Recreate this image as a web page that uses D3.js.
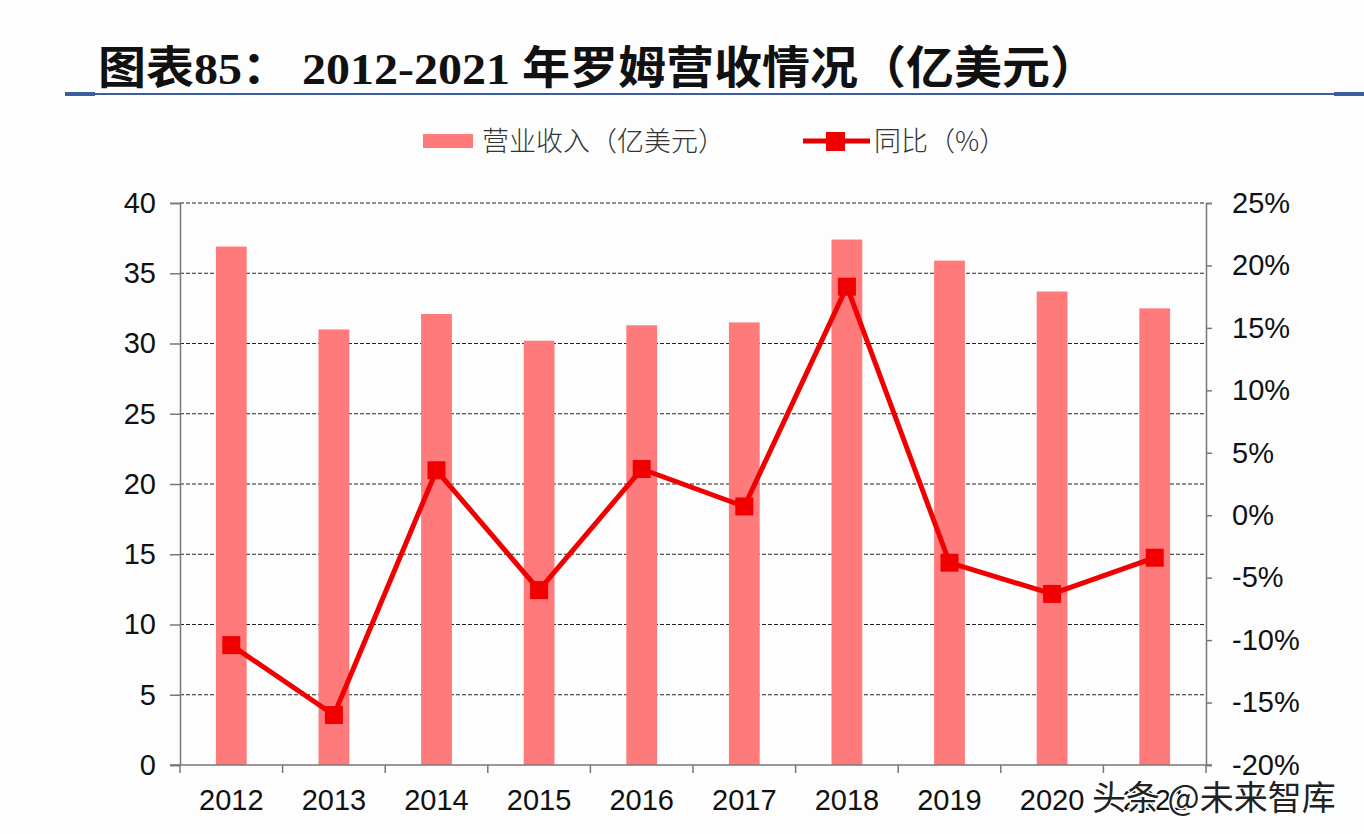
<!DOCTYPE html>
<html>
<head>
<meta charset="utf-8">
<script src="https://cdn.jsdelivr.net/npm/d3@7"></script>
<style>
  body { margin: 0; background: #fdfdfd; }
</style>
</head>
<body>
<script>
var w = 1364,
    h = 834;

var years = ["2012","2013","2014","2015","2016","2017","2018","2019","2020","2021"];
var revenue = [36.9, 31.0, 32.1, 30.2, 31.3, 31.5, 37.4, 35.9, 33.7, 32.5];
var yoy = [-10.4, -16.0, 3.6, -6.0, 3.7, 0.7, 18.3, -3.8, -6.3, -3.4];
var leftTicks = [0, 5, 10, 15, 20, 25, 30, 35, 40];
var rightTicks = [-20, -15, -10, -5, 0, 5, 10, 15, 20, 25];

var mLeft = 180, mRight = 1206, mTop = 203, mBottom = 765;

var svg = d3.select("body").append("svg")
  .attr("width", w).attr("height", h)
  .style("display", "block")
  .style("font-family", "'Liberation Sans', Arial, sans-serif");

// title
svg.append("text")
  .attr("x", 98).attr("y", 84)
  .attr("font-size", 45).attr("font-weight", "bold")
  .attr("fill", "#111")
  .attr("textLength", 1000).attr("lengthAdjust", "spacingAndGlyphs")
  .style("font-family", "'Liberation Serif', 'Noto Sans CJK SC', serif")
  .text("图表85：  2012-2021 年罗姆营收情况（亿美元）");

svg.append("line")
  .attr("x1", 65).attr("x2", 1364).attr("y1", 94).attr("y2", 94)
  .attr("stroke", "#3a5f9c").attr("stroke-width", 2);
svg.append("rect").attr("x", 65).attr("y", 92).attr("width", 30).attr("height", 4).attr("fill", "#3a5f9c");
svg.append("rect").attr("x", 1334).attr("y", 92).attr("width", 30).attr("height", 4).attr("fill", "#3a5f9c");

var x = d3.scaleBand().domain(years).range([mLeft, mRight]).paddingInner(0.7).paddingOuter(0.35);
var xb = d3.scaleBand().domain(years).range([mLeft, mRight]);
var y = d3.scaleLinear().domain([0, 40]).range([mBottom, mTop]);
var y2 = d3.scaleLinear().domain([-20, 25]).range([mBottom, mTop]);

// gridlines
svg.append("g").selectAll("line")
  .data(leftTicks.filter(function(d) { return d > 0; }))
  .enter().append("line")
  .attr("x1", mLeft).attr("x2", mRight)
  .attr("y1", function(d) { return y(d); })
  .attr("y2", function(d) { return y(d); })
  .attr("stroke", "#222").attr("stroke-width", 1)
  .attr("stroke-dasharray", "4,2");

// bars
svg.append("g").selectAll("rect")
  .data(revenue)
  .enter().append("rect")
  .attr("x", function(d, i) { return x(years[i]); })
  .attr("width", x.bandwidth())
  .attr("y", function(d) { return y(d); })
  .attr("height", function(d) { return mBottom - y(d); })
  .attr("fill", "#ff7b7b");

// left axis
var gl = svg.append("g").attr("transform", "translate(" + mLeft + ",0)")
  .call(d3.axisLeft(y).tickValues(leftTicks).tickSize(10).tickPadding(14));
gl.selectAll("text").attr("font-size", 29).attr("fill", "#111")
  .style("font-family", "'Liberation Sans', Arial, sans-serif");

// right axis
var gr = svg.append("g").attr("transform", "translate(" + mRight + ",0)")
  .call(d3.axisRight(y2).tickValues(rightTicks).tickSize(6).tickPadding(20)
    .tickFormat(function(d) { return d + "%"; }));
gr.selectAll("text").attr("font-size", 29).attr("fill", "#111")
  .style("font-family", "'Liberation Sans', Arial, sans-serif");

// bottom axis
var gb = svg.append("g").attr("transform", "translate(0," + mBottom + ")");
gb.append("line").attr("x1", mLeft - 10).attr("x2", mRight + 6).attr("y1", 0).attr("y2", 0)
  .attr("stroke", "#777").attr("stroke-width", 1.5);
gb.selectAll("line.tk")
  .data(years.concat(["end"]))
  .enter().append("line").attr("class", "tk")
  .attr("x1", function(d, i) { return i < years.length ? xb(d) : mRight; })
  .attr("x2", function(d, i) { return i < years.length ? xb(d) : mRight; })
  .attr("y1", 0).attr("y2", 8)
  .attr("stroke", "#777").attr("stroke-width", 1.5);
gb.selectAll("text")
  .data(years)
  .enter().append("text")
  .attr("x", function(d) { return xb(d) + xb.bandwidth() / 2; })
  .attr("y", 45)
  .attr("text-anchor", "middle")
  .attr("font-size", 29).attr("fill", "#111")
  .text(function(d) { return d; });

svg.selectAll(".domain").attr("stroke", "#777").attr("stroke-width", 1.5);
svg.selectAll(".tick line").attr("stroke", "#777").attr("stroke-width", 1.5);

// line
var lineFn = d3.line()
  .x(function(d, i) { return xb(years[i]) + xb.bandwidth() / 2; })
  .y(function(d) { return y2(d); });

svg.append("path")
  .attr("d", lineFn(yoy))
  .attr("fill", "none")
  .attr("stroke", "#f00000")
  .attr("stroke-width", 5)
  .attr("stroke-linejoin", "round");

svg.append("g").selectAll("rect")
  .data(yoy)
  .enter().append("rect")
  .attr("x", function(d, i) { return xb(years[i]) + xb.bandwidth() / 2 - 9; })
  .attr("y", function(d) { return y2(d) - 9; })
  .attr("width", 18).attr("height", 18)
  .attr("fill", "#f00000");

// legend
var lg = svg.append("g");
lg.append("rect").attr("x", 423).attr("y", 134).attr("width", 50).attr("height", 14).attr("fill", "#ff7b7b");
lg.append("text").attr("x", 482).attr("y", 151).attr("font-size", 27).attr("fill", "#333")
  .style("font-family", "'Noto Sans CJK SC', sans-serif").attr("font-weight", 300)
  .text("营业收入（亿美元）");
lg.append("line").attr("x1", 803).attr("x2", 870).attr("y1", 141).attr("y2", 141)
  .attr("stroke", "#e00000").attr("stroke-width", 5);
lg.append("rect").attr("x", 826).attr("y", 132).attr("width", 19).attr("height", 19).attr("fill", "#f00000");
lg.append("text").attr("x", 874).attr("y", 151).attr("font-size", 27).attr("fill", "#333")
  .style("font-family", "'Noto Sans CJK SC', sans-serif").attr("font-weight", 300)
  .text("同比（%）");

// watermark
svg.append("text")
  .attr("x", 1092).attr("y", 810)
  .attr("font-size", 34).attr("fill", "#222")
  .attr("stroke", "#fff").attr("stroke-width", 3).attr("paint-order", "stroke")
  .style("font-family", "'Noto Sans CJK SC', sans-serif")
  .text("头条 @未来智库");
</script>
</body>
</html>
